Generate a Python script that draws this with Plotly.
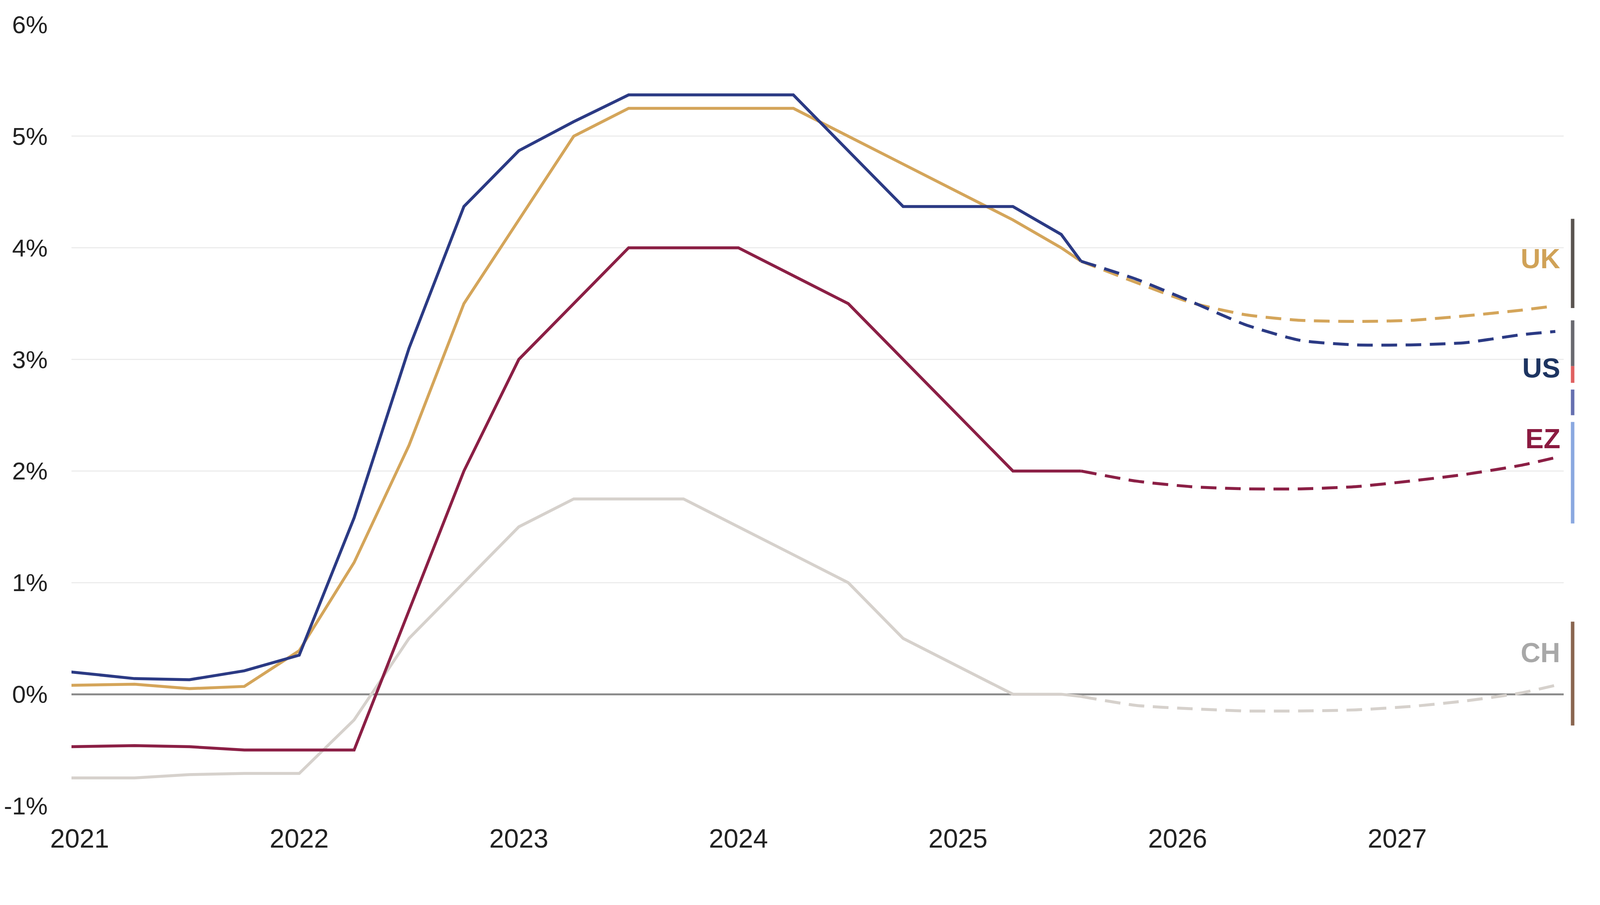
import plotly.graph_objects as go

# ── Data (policy rates, %) ──────────────────────────
hist_x = [2020.96, 2021.25, 2021.5, 2021.75, 2022.0, 2022.25, 2022.5, 2022.75,
          2023.0, 2023.25, 2023.5, 2023.75, 2024.0, 2024.25, 2024.5, 2024.75,
          2025.0, 2025.25, 2025.47, 2025.56]
fcst_x = [2025.56, 2025.81, 2026.06, 2026.31, 2026.56, 2026.81, 2027.06,
          2027.31, 2027.56, 2027.72]

us_hist = [0.20, 0.14, 0.13, 0.21, 0.35, 1.58, 3.10, 4.37, 4.87, 5.13, 5.37, 5.37,
           5.37, 5.37, 4.87, 4.37, 4.37, 4.37, 4.12, 3.88]
uk_hist = [0.08, 0.09, 0.05, 0.07, 0.39, 1.18, 2.23, 3.50, 4.25, 5.00, 5.25, 5.25,
           5.25, 5.25, 5.00, 4.75, 4.50, 4.25, 4.00, 3.88]
ez_hist = [-0.47, -0.46, -0.47, -0.50, -0.50, -0.50, 0.75, 2.00, 3.00, 3.50, 4.00,
           4.00, 4.00, 3.75, 3.50, 3.00, 2.50, 2.00, 2.00, 2.00]
ch_hist = [-0.75, -0.75, -0.72, -0.71, -0.71, -0.23, 0.50, 1.00, 1.50, 1.75, 1.75,
           1.75, 1.50, 1.25, 1.00, 0.50, 0.25, 0.00, 0.00, -0.02]

us_fcst = [3.88, 3.72, 3.52, 3.31, 3.17, 3.13, 3.13, 3.15, 3.22, 3.25]
uk_fcst = [3.88, 3.69, 3.51, 3.40, 3.35, 3.34, 3.35, 3.39, 3.44, 3.48]
ez_fcst = [2.00, 1.91, 1.86, 1.84, 1.84, 1.86, 1.91, 1.97, 2.05, 2.12]
ch_fcst = [-0.02, -0.10, -0.13, -0.15, -0.15, -0.14, -0.11, -0.06, 0.01, 0.08]

labels = ['UK', 'US', 'EZ', 'CH']
label_y = [3.90, 2.92, 2.29, 0.37]

years = [2021, 2022, 2023, 2024, 2025, 2026, 2027]
y_ticks = [-1, 0, 1, 2, 3, 4, 5, 6]

line_colors = {'US': '#2b3a84', 'UK': '#d4a55a', 'EZ': '#8b1f45', 'CH': '#d6d1cc'}
label_colors = {'UK': '#d0a257', 'US': '#1d3461', 'EZ': '#8b1a40', 'CH': '#a8a8a8'}

series = [('CH', ch_hist, ch_fcst), ('EZ', ez_hist, ez_fcst),
          ('UK', uk_hist, uk_fcst), ('US', us_hist, us_fcst)]

fig = go.Figure()

for name, h, f in series:
    fig.add_trace(go.Scatter(x=hist_x, y=h, mode='lines', name=name,
                             line=dict(color=line_colors[name], width=7.5),
                             showlegend=False))
    fig.add_trace(go.Scatter(x=fcst_x, y=f, mode='lines', name=name + ' forecast',
                             line=dict(color=line_colors[name], width=7.5, dash='40px,22px',
                                       shape='spline', smoothing=0.6),
                             showlegend=False))

for lab, ly in zip(labels, label_y):
    fig.add_annotation(x=2027.745, y=ly, text='<b>%s</b>' % lab, showarrow=False,
                       xanchor='right', yanchor='middle',
                       font=dict(size=70, color=label_colors[lab],
                                 family='Liberation Sans, Arial, sans-serif'))

# thin cropped flag edges at far right
edges = [(3.46, 4.26, '#5a5450'), (2.94, 3.35, '#6a6a70'), (2.79, 2.94, '#e06060'),
         (2.50, 2.73, '#6670b0'), (1.53, 2.44, '#8aa8e0'), (-0.28, 0.65, '#8a6650')]
for y0, y1, c in edges:
    fig.add_shape(type='line', xref='paper', yref='y', x0=1.006, x1=1.006,
                  y0=y0, y1=y1, line=dict(color=c, width=9))

fig.update_layout(
    autosize=True,
    margin=dict(l=175, r=85, t=55, b=242),
    plot_bgcolor='white', paper_bgcolor='white',
    font=dict(family='Liberation Sans, Arial, sans-serif', size=68, color='#222222'),
)
fig.update_xaxes(range=[2020.963, 2027.758], tickvals=years,
                 ticktext=[str(y) for y in years], showgrid=False, zeroline=False,
                 showline=False, ticks='', ticklabelstandoff=38, automargin=False)
fig.update_yaxes(range=[-1, 6], tickvals=y_ticks,
                 ticktext=['%d%%' % v for v in y_ticks], showgrid=True,
                 gridcolor='#ececec', gridwidth=3, zeroline=True,
                 zerolinecolor='#8c8c8c', zerolinewidth=5, showline=False,
                 ticks='', ticklabelstandoff=60, automargin=False,
                 tickfont=dict(size=63))

fig.write_html("out.html", config={'responsive': True},
               default_width='100%', default_height='calc(100vh - 20px)')
